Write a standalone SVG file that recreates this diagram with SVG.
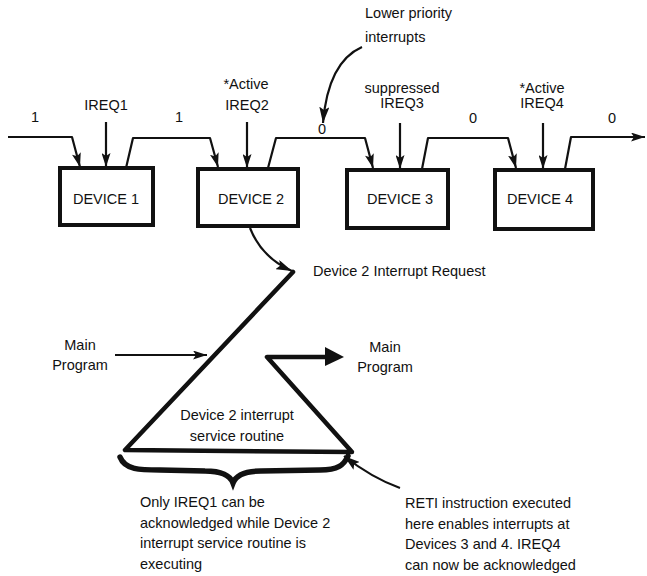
<svg xmlns="http://www.w3.org/2000/svg" width="647" height="576" viewBox="0 0 647 576">
<style>
text{font-family:"Liberation Sans",Arial,sans-serif;font-size:14.5px;fill:#111}
.c{text-anchor:middle}
.box{fill:#fff;stroke:#111;stroke-width:4}
.ln{fill:none;stroke:#111;stroke-width:2.2;stroke-linejoin:round}
.thick{fill:none;stroke:#111;stroke-width:4.5;stroke-linejoin:round;stroke-linecap:round}
</style>
<defs>
<marker id="ah" viewBox="0 0 14 9" refX="14" refY="4.5" markerWidth="14" markerHeight="9" orient="auto" markerUnits="userSpaceOnUse">
<path d="M0,0 L14,4.5 L0,9 L3,4.5 z" fill="#111"/>
</marker>
<marker id="ahb" viewBox="0 0 16 10" refX="16" refY="5" markerWidth="16" markerHeight="10" orient="auto" markerUnits="userSpaceOnUse">
<path d="M0,0 L16,5 L0,10 L3,5 z" fill="#111"/>
</marker>
</defs>
<rect width="647" height="576" fill="#fff"/>

<g id="connectors">
<path class="ln" d="M8,137 L72,137 L80,167" marker-end="url(#ah)"/>
<path class="ln" d="M126,168 L133,138 L210,138 L218,167" marker-end="url(#ah)"/>
<path class="ln" d="M268,168 L276,138 L365,138 L373,168" marker-end="url(#ah)"/>
<path class="ln" d="M422,169 L428,138 L508,138 L516,168" marker-end="url(#ah)"/>
<path class="ln" d="M565,169 L571,137 L645,137" marker-end="url(#ah)"/>
<path class="ln" d="M106,122 L106,167" marker-end="url(#ah)"/>
<path class="ln" d="M247,122 L247,168" marker-end="url(#ah)"/>
<path class="ln" d="M400,123 L400,169" marker-end="url(#ah)"/>
<path class="ln" d="M543,123 L543,169" marker-end="url(#ah)"/>
<path class="ln" d="M362,47 Q328,62 323,123" stroke-width="3" marker-end="url(#ahb)"/>
<path class="ln" d="M250,228 Q262,258 292,271" marker-end="url(#ahb)"/>
<path class="thick" d="M293,272 L125,450 L352,452 L267,357 L326,357"/>
<polygon points="325,347 344,357 325,366" fill="#111"/>
<path class="ln" d="M115,355 L207,355" stroke-width="2.5" marker-end="url(#ah)"/>
<path d="M120,457 C125,470 140,470 160,470 L205,471 C222,471 230,475 233,483 C236,475 244,471 261,471 L320,470 C338,470 344,465 348,456" fill="none" stroke="#111" stroke-width="5.5" stroke-linecap="round"/>
<path class="ln" d="M400,488 Q372,478 344,456" marker-end="url(#ahb)"/>
</g>

<g id="device1">
<rect class="box" x="60" y="168" width="93" height="57"/>
<text class="c" x="106" y="204">DEVICE 1</text>
</g>
<g id="device2">
<rect class="box" x="198" y="169" width="100" height="57"/>
<text class="c" x="251" y="204">DEVICE 2</text>
</g>
<g id="device3">
<rect class="box" x="347" y="170" width="101" height="58"/>
<text class="c" x="400" y="204">DEVICE 3</text>
</g>
<g id="device4">
<rect class="box" x="495" y="170" width="98" height="59"/>
<text class="c" x="540" y="204">DEVICE 4</text>
</g>

<g id="labels">
<text class="c" x="35" y="122">1</text>
<text class="c" x="106" y="110">IREQ1</text>
<text class="c" x="179" y="122">1</text>
<text class="c" x="246" y="89">*Active</text>
<text class="c" x="247" y="110">IREQ2</text>
<text class="c" x="322" y="134">0</text>
<text x="365" y="18">Lower priority</text>
<text x="365" y="42">interrupts</text>
<text class="c" x="402" y="93">suppressed</text>
<text class="c" x="402" y="108">IREQ3</text>
<text class="c" x="473" y="123">0</text>
<text class="c" x="542" y="93">*Active</text>
<text class="c" x="542" y="108">IREQ4</text>
<text class="c" x="612" y="123">0</text>
<text x="313" y="276">Device 2 Interrupt Request</text>
<text class="c" x="80" y="350">Main</text>
<text class="c" x="80" y="370">Program</text>
<text class="c" x="385" y="352">Main</text>
<text class="c" x="385" y="372">Program</text>
<text class="c" x="237" y="420">Device 2 interrupt</text>
<text class="c" x="237" y="441">service routine</text>
<text x="140" y="507">Only IREQ1 can be</text>
<text x="140" y="528">acknowledged while Device 2</text>
<text x="140" y="548">interrupt service routine is</text>
<text x="140" y="569">executing</text>
<text x="405" y="508">RETI instruction executed</text>
<text x="405" y="529">here enables interrupts at</text>
<text x="405" y="549">Devices 3 and 4. IREQ4</text>
<text x="405" y="570">can now be acknowledged</text>
</g>
</svg>
